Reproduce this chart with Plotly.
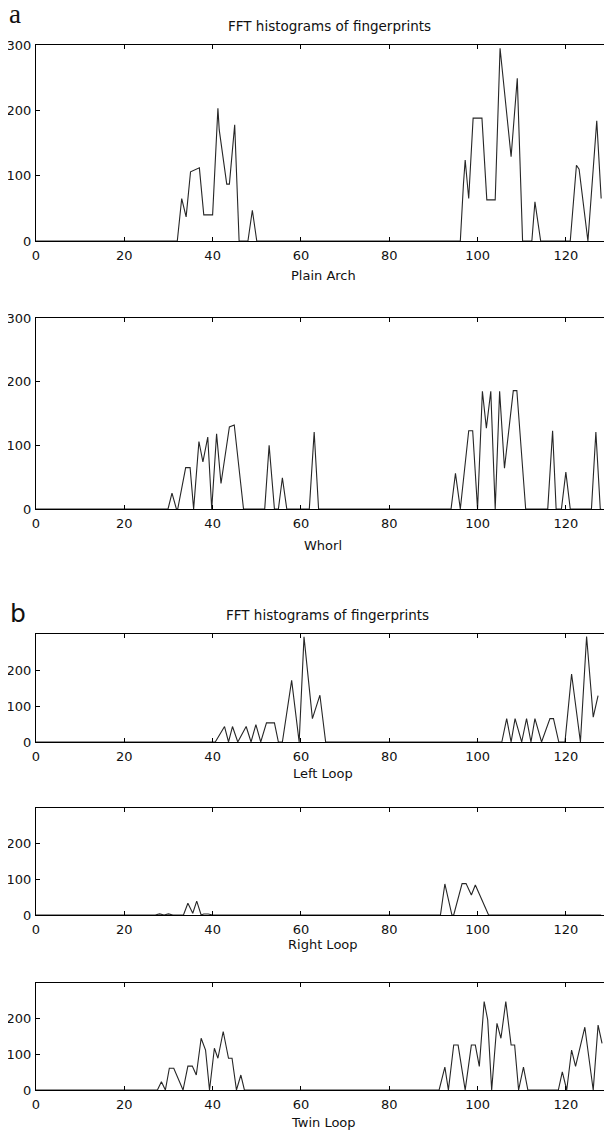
import plotly.graph_objects as go

# ---------------- data ----------------
x_ticks = [0, 20, 40, 60, 80, 100, 120]

plain_arch_x = [0, 32, 33, 34, 35, 37, 38, 40, 41.2, 41.5, 43.2, 43.8, 45, 46, 48, 49, 50,
                96.1, 96.8, 97.2, 98, 99, 101, 102.1, 104, 105.1, 107.6, 109, 110.2,
                112.3, 113, 114.3, 121, 122.4, 123, 125, 127, 128]
plain_arch_y = [0, 0, 65, 37, 106, 112, 40, 40, 203, 170, 87, 87, 178, 0, 0, 47, 0,
                0, 86, 124, 65, 188, 188, 63, 63, 295, 129, 249, 0,
                0, 60, 0, 0, 116, 110, 0, 184, 65]

whorl_x = [0, 29.9, 30.8, 31.8, 32.1, 33.9, 34.9, 35.7, 36.9, 37.8, 38.9, 39.8, 40.9, 41.3,
           41.9, 43.8, 44.9, 47, 51.8, 52.8, 54, 54.9, 55.8, 56.8, 61.9, 63, 64,
           94, 95, 96.1, 98, 98.9, 100, 101.1, 102, 103, 104, 105, 106.1, 108.1, 108.9,
           110.9, 115.9, 117, 117.8, 119, 120, 121, 125.8, 126.8, 127.8, 128]
whorl_y = [0, 0, 25, 0, 0, 65, 65, 0, 106, 74, 113, 0, 118, 85,
           40, 129, 132, 0, 0, 100, 0, 0, 49, 0, 0, 121, 0,
           0, 56, 0, 123, 123, 0, 185, 127, 185, 0, 185, 64, 186, 186,
           0, 0, 123, 0, 0, 58, 0, 0, 121, 0, 0]

left_loop_x = [0, 40.6, 42.7, 43.6, 44.5, 45.7, 47.6, 48.7, 49.8, 50.9, 52.2, 54, 54.9,
               55.8, 57.9, 59.6, 60.7, 62.6, 64.3, 65.6,
               105.5, 106.6, 107.6, 108.5, 110, 111.1, 112.1, 113, 114.5, 116.4, 117.2,
               118.4, 119.8, 121.3, 123.3, 124.7, 126.2, 127.3]
left_loop_y = [0, 0, 43, 0, 43, 0, 43, 0, 48, 0, 53, 53, 0,
               0, 171, 0, 292, 65, 130, 0,
               0, 65, 0, 65, 0, 65, 0, 65, 0, 65, 65,
               0, 0, 189, 0, 293, 69, 129]

right_loop_x = [0, 27, 28, 29, 30, 31, 33.4, 34.4, 35.5, 36.4, 37.4, 38, 39, 40,
                91.6, 92.6, 94.2, 94.6, 96.5, 97.4, 98.6, 99.5, 102.5, 128]
right_loop_y = [0, 0, 3, 0, 3, 0, 0, 33, 5, 39, 0, 3, 3, 0,
                0, 87, 0, 0, 88, 88, 56, 84, 0, 0]

twin_loop_x = [0, 27.5, 28.4, 29.3, 30.2, 31.2, 33.3, 34.4, 35.4, 36.3, 37.4, 38.4, 39.3,
               40.4, 41.2, 42.4, 43.6, 44.4, 45.4, 46.4, 47.2,
               91.3, 92.6, 93.4, 94.6, 95.6, 97.2, 98.6, 99.5, 100.4, 101.5, 102.3, 103.2,
               104.4, 105.3, 106.4, 107.6, 108.4, 109.3, 110.4, 111.4,
               118.3, 119.2, 120.2, 121.3, 122.2, 124.3, 126.2, 127.3, 128.2]
twin_loop_y = [0, 0, 23, 0, 61, 61, 0, 67, 67, 42, 145, 112, 0,
               117, 89, 164, 89, 89, 0, 42, 0,
               0, 64, 0, 126, 126, 0, 126, 126, 66, 248, 197, 0,
               187, 145, 248, 126, 126, 0, 64, 0,
               0, 51, 0, 112, 66, 176, 0, 182, 131]

panel_names = ["Plain Arch", "Whorl", "Left Loop", "Right Loop", "Twin Loop"]
panel_titles = ["FFT histograms of fingerprints", "FFT histograms of fingerprints"]
yticks_a = [0, 100, 200, 300]
yticks_b = [0, 100, 200]

# ---------------- layout (pixel geometry) ----------------
OFF = 8                      # the page body margin that offsets the figure
W, H = 612 - OFF, 1136 - OFF
LEFT, RIGHT = 36 - OFF, 610 - OFF
# (top, bottom) pixel rows of each axes box, in window pixels
boxes = [(45, 241), (318, 509), (634, 742), (808, 915), (983, 1090)]
label_rows = [276, 545, 773, 944, 1122]


def fx(p):
    return p / W


def fy(p):
    return 1 - (p - OFF) / H


series = [(plain_arch_x, plain_arch_y, yticks_a),
          (whorl_x, whorl_y, yticks_a),
          (left_loop_x, left_loop_y, yticks_b),
          (right_loop_x, right_loop_y, yticks_b),
          (twin_loop_x, twin_loop_y, yticks_b)]

FONT = "DejaVu Sans"
fig = go.Figure()
lay = {}
for i, ((xs, ys, yt), (top, bot)) in enumerate(zip(series, boxes)):
    k = "" if i == 0 else str(i + 1)
    fig.add_trace(go.Scatter(x=xs, y=ys, mode="lines",
                             line=dict(color="#262626", width=1.1),
                             xaxis="x" + k, yaxis="y" + k, showlegend=False,
                             name=panel_names[i], cliponaxis=False))
    common = dict(ticks="inside", ticklen=4, tickcolor="black", showline=True,
                  mirror="ticks", linecolor="black", linewidth=1, showgrid=False,
                  zeroline=False, automargin=False,
                  tickfont=dict(family=FONT, size=13, color="#111"))
    lay["xaxis" + k] = dict(domain=[fx(LEFT), fx(RIGHT)], range=[0, 130],
                            anchor="y" + k, tickvals=x_ticks, ticklabelstandoff=2,
                            **common)
    lay["yaxis" + k] = dict(domain=[fy(bot), fy(top)], range=[0, 300],
                            anchor="x" + k, tickvals=yt, ticklabelstandoff=1,
                            **common)

ann = []
for name, row in zip(panel_names, label_rows):
    ann.append(dict(text=name, x=fx(323 - OFF), y=fy(row), xref="paper",
                    yref="paper", showarrow=False, xanchor="center", yanchor="middle",
                    font=dict(family=FONT, size=13, color="#111")))
for t, row, cx in zip(panel_titles, [26, 615], [329, 327]):
    ann.append(dict(text=t, x=fx(cx - OFF), y=fy(row), xref="paper",
                    yref="paper", showarrow=False, xanchor="center", yanchor="middle",
                    font=dict(family=FONT, size=13.5, color="#111")))
ann.append(dict(text="a", x=fx(7 - OFF), y=fy(14), xref="paper", yref="paper",
                showarrow=False, xanchor="left", yanchor="middle",
                font=dict(family="Liberation Serif", size=27, color="#111")))
ann.append(dict(text="b", x=fx(8 - OFF), y=fy(613), xref="paper", yref="paper",
                showarrow=False, xanchor="left", yanchor="middle",
                font=dict(family=FONT, size=25, color="#111")))

fig.update_layout(width=W, height=H, margin=dict(l=0, r=0, t=0, b=0),
                  paper_bgcolor="white", plot_bgcolor="white",
                  annotations=ann, showlegend=False, **lay)
fig.write_html("out.html")
